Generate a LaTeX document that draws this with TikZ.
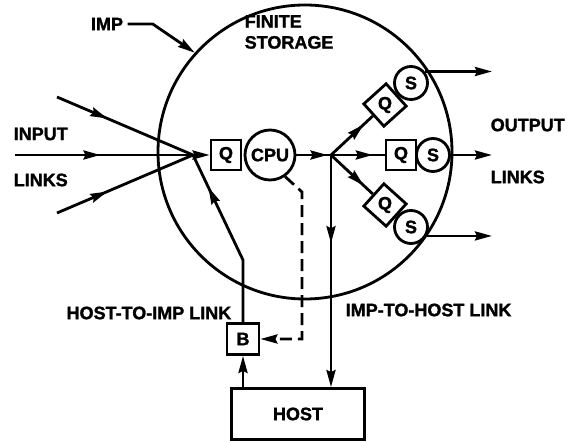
\documentclass[tikz,border=0pt]{standalone}
\usepackage{fontspec}
\setmainfont{Liberation Sans}[BoldFeatures={FakeBold=1.5}]
\usetikzlibrary{arrows.meta,decorations.markings}

\begin{document}
\begin{tikzpicture}[x=1pt,y=1pt,line width=2.8pt,
  >={Stealth[length=17pt,width=9pt,inset=2pt]},
  every node/.style={font=\fontsize{18}{21}\selectfont\bfseries},
  qbox/.style={draw,fill=white,minimum width=30pt,minimum height=30pt,inner sep=0pt},
  sdot/.style={draw,fill=white,circle,minimum size=33pt,inner sep=0pt},
  midarrow/.style={postaction={decorate},
    decoration={markings,mark=at position #1 with {\arrow{>}}}}]
\useasboundingbox (0,0) rectangle (571,442);
\node[draw,circle,minimum size=294pt,inner sep=0pt] (imp) at (305,290) {};
\node (implabel) at (107,418) {IMP};
\node[anchor=west,align=left] (storage) at (240,410) {FINITE\\STORAGE};
\node[anchor=west] (inlabel) at (9,308) {INPUT};
\node[anchor=west] (inlinks) at (9,262) {LINKS};
\node[anchor=west] (outlabel) at (486,317) {OUTPUT};
\node[anchor=west] (outlinks) at (486,265) {LINKS};
\node[qbox] (q) at (226,287) {Q};
\node[draw,circle,minimum size=50pt,inner sep=0pt] (cpu) at (270,287) {CPU};
\coordinate (join) at (193,287);
\coordinate (branch) at (331,287);
\coordinate (in1) at (57,345);
\coordinate (in2) at (15,287);
\coordinate (in3) at (57,229);
\coordinate (outx) at (492,0);
% output queues and senders
\node[qbox,rotate=42] (q1) at (385,337) {};
\node at (q1) {Q};
\node[sdot] (s1) at (411,359) {S};
\node[qbox] (q2) at (401,287) {Q};
\node[sdot] (s2) at (433,287) {S};
\node[qbox,rotate=-42] (q3) at (385,237) {};
\node at (q3) {Q};
\node[sdot] (s3) at (411,215) {S};
% host side
\node[draw,minimum width=133pt,minimum height=51pt,inner sep=0pt] (host) at (298,28) {HOST};
\node[qbox,minimum width=32pt,minimum height=31pt] (b) at (243,103) {B};
\coordinate (bend) at (243,182);
\coordinate (dtop) at (302,250);
\node[anchor=east] (h2i) at (236,129) {HOST-TO-IMP LINK};
\node[anchor=west] (i2h) at (341,132) {IMP-TO-HOST LINK};
\draw[->] (implabel.east) -- ++(25,0) -- (imp.138);
\draw[midarrow=0.37] (in1) -- (join);
\draw[midarrow=0.48] (in2) -- (join);
\draw[midarrow=0.37] (in3) -- (join);
\draw[->] (join) -- (q.west);
\draw[midarrow=0.9] (cpu.east) -- (branch);
\draw[midarrow=0.78] (branch) -- (q1.west);
\draw[midarrow=0.78] (branch) -- (q2.west);
\draw[midarrow=0.78] (branch) -- (q3.west);
\draw[->] (s1.40) -- (s1.40 -| outx);
\draw[->] (s2.east) -- (s2.east -| outx);
\draw[->] (s3.-30) -- (s3.-30 -| outx);
\draw[->,midarrow=0.38] (branch) -- (branch |- host.north);
\draw[->] (host.north -| b) -- (b.south);
\draw[midarrow=0.8] (b.north) -- (bend) -- (join);
\draw[->,dash pattern=on 12pt off 6pt] (cpu.-55) -- (dtop) -- (dtop |- b.east) -- (b.east);
\end{tikzpicture}
\end{document}
